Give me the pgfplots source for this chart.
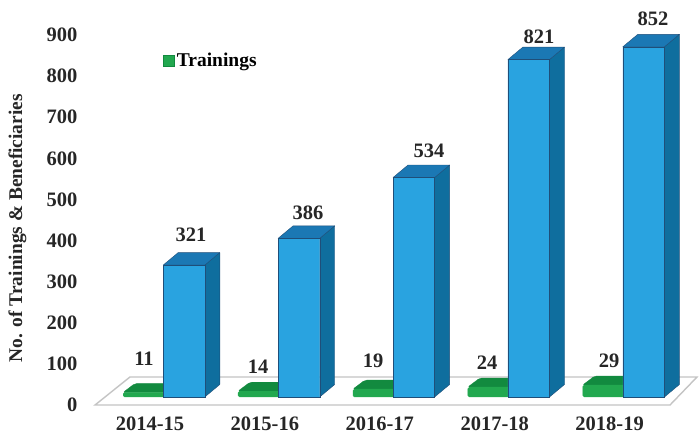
\documentclass[border=0pt]{standalone}
\usepackage{pgfplots}
\pgfplotsset{compat=1.18}
\usepackage{fontspec}
\setmainfont{Liberation Serif}
\definecolor{bfront}{HTML}{29A3E0}
\definecolor{bside}{HTML}{0F6E9E}
\definecolor{btop}{HTML}{1B78B4}
\definecolor{bline}{HTML}{1F4E79}
\definecolor{gfront}{HTML}{22A84F}
\definecolor{gtop}{HTML}{128A3F}
\definecolor{floorline}{HTML}{C4C4C4}
\newcommand{\lab}{\fontsize{20.5}{20.5}\selectfont\bfseries}
\pgfplotsset{
  bluepoly/.style={draw=bline,line width=0.4pt,line join=round,forget plot},
  greenpoly/.style={draw=gtop,fill=gtop,line width=0.3pt,rounded corners=2pt,forget plot},
  datalabels/.style={only marks,mark=none,forget plot,nodes near coords,point meta=explicit symbolic,
    every node near coord/.style={anchor=center,font=\lab,inner sep=0pt,text=black!85}},
}
\begin{document}
\begin{tikzpicture}
\begin{axis}[
  scale only axis,width=699pt,height=438pt,
  xmin=-1.6014,xmax=4.482,ymin=-99.76,ymax=965.9,
  clip=false,
  axis line style={draw=none},
  tick style={draw=none},
  xtick={0,1,2,3,4},
  xticklabels={2014-15,2015-16,2016-17,2017-18,2018-19},
  ytick={0,100,200,300,400,500,600,700,800,900},
  yticklabels={0,100,200,300,400,500,600,700,800,900},
  xticklabel style={font=\lab,text=black!85,anchor=center,xshift=-34pt,yshift=14pt},
  yticklabel style={font=\lab,text=black!85,anchor=east,xshift=81pt,yshift=-8pt},
  ylabel={No. of Trainings \& Beneficiaries},
  ylabel style={at={(axis description cs:0.025,0.479)},anchor=center,font=\fontsize{19.4}{20}\selectfont\bfseries,text=black!85},
  legend style={at={(axis description cs:0.2335,0.861)},anchor=west,draw=none,fill=none,inner sep=0pt,font=\fontsize{19.5}{20}\selectfont\bfseries,
    /tikz/every even column/.style={column sep=4pt}},
  legend cell align=left,
]
% floor
\addplot[draw=floorline,fill=white,line width=1.4pt,forget plot] coordinates {(-0.7745,-19.5) (4.2298,-19.5) (4.4648,48.7) (-0.4700,48.7)} --cycle;
% green tops
\addplot[greenpoly] coordinates {(-0.531,11) (-0.165,11) (-0.0606,33) (-0.4266,33)} --cycle;
\addplot[greenpoly] coordinates {(0.469,14) (0.835,14) (0.9394,36) (0.5734,36)} --cycle;
\addplot[greenpoly] coordinates {(1.469,19) (1.835,19) (1.9394,41) (1.5734,41)} --cycle;
\addplot[greenpoly] coordinates {(2.469,24) (2.835,24) (2.9394,46) (2.5734,46)} --cycle;
\addplot[greenpoly] coordinates {(3.469,29) (3.835,29) (3.9394,51) (3.5734,51)} --cycle;
% green fronts
\addplot[ybar,bar width=41.6pt,bar shift=-40pt,draw=gfront,fill=gfront,rounded corners=1.5pt,
  legend image code/.code={\fill[gfront,draw=gtop,sharp corners] (0pt,-5.5pt) rectangle (11pt,5.5pt);}]
  coordinates {(0,11) (1,14) (2,19) (3,24) (4,29)};
\addlegendentry{Trainings}
% blue sides
\addplot[bluepoly,fill=bside] coordinates {(0.181,0) (0.3115,30.4) (0.3115,351.4) (0.181,321)} --cycle;
\addplot[bluepoly,fill=bside] coordinates {(1.181,0) (1.3115,30.4) (1.3115,416.4) (1.181,386)} --cycle;
\addplot[bluepoly,fill=bside] coordinates {(2.181,0) (2.3115,30.4) (2.3115,564.4) (2.181,534)} --cycle;
\addplot[bluepoly,fill=bside] coordinates {(3.181,0) (3.3115,30.4) (3.3115,851.4) (3.181,821)} --cycle;
\addplot[bluepoly,fill=bside] coordinates {(4.181,0) (4.3115,30.4) (4.3115,882.4) (4.181,852)} --cycle;
% blue tops
\addplot[bluepoly,fill=btop] coordinates {(-0.181,321) (0.181,321) (0.3115,351.4) (-0.0505,351.4)} --cycle;
\addplot[bluepoly,fill=btop] coordinates {(0.819,386) (1.181,386) (1.3115,416.4) (0.9495,416.4)} --cycle;
\addplot[bluepoly,fill=btop] coordinates {(1.819,534) (2.181,534) (2.3115,564.4) (1.9495,564.4)} --cycle;
\addplot[bluepoly,fill=btop] coordinates {(2.819,821) (3.181,821) (3.3115,851.4) (2.9495,851.4)} --cycle;
\addplot[bluepoly,fill=btop] coordinates {(3.819,852) (4.181,852) (4.3115,882.4) (3.9495,882.4)} --cycle;
% blue fronts
\addplot[ybar,bar width=41.6pt,bar shift=0pt,draw=bline,line width=0.4pt,fill=bfront,forget plot]
  coordinates {(0,321) (1,386) (2,534) (3,821) (4,852)};
% labels
\addplot[datalabels] table[meta=l,row sep=\\] {
x y l\\
0.061 394 321\\
1.079 448 386\\
2.132 599 534\\
3.090 876 821\\
4.082 920 852\\
-0.348 92 11\\
0.644 73 14\\
1.645 88 19\\
2.637 83 24\\
3.699 88 29\\
};
\end{axis}
\end{tikzpicture}
\end{document}
